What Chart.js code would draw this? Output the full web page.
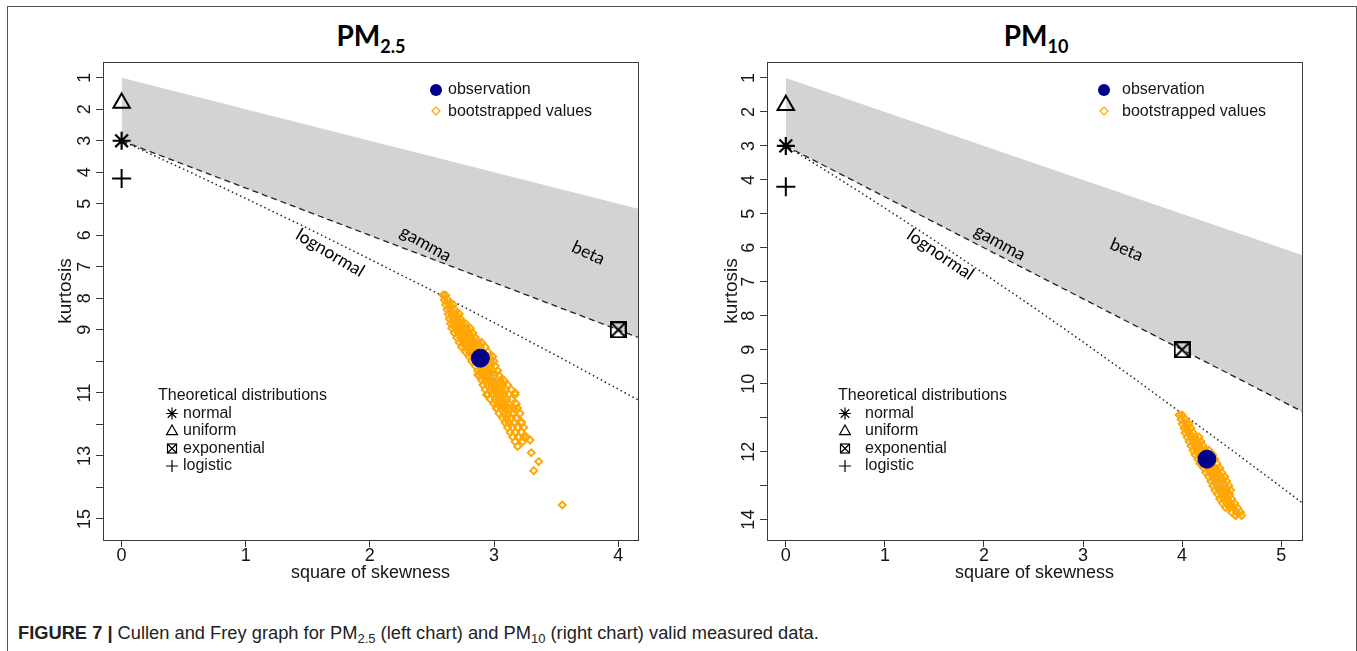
<!DOCTYPE html>
<html>
<head>
<meta charset="utf-8">
<script src="https://cdn.jsdelivr.net/npm/chart.js@4.4.1/dist/chart.umd.min.js"></script>
<style>
  body { margin: 0; background: #fff; width: 1357px; height: 651px; overflow: hidden; position: relative; font-family: "Liberation Sans", Arial, sans-serif; }
  .frame { position: absolute; left: 7px; top: 6px; width: 1348px; height: 700px; border: 1px solid #555; }
  .title { position: absolute; top: 18px; width: 300px; text-align: center; font: bold 28px Lato, "Liberation Sans", sans-serif; color: #000; }
  .title sub { font-size: 18px; vertical-align: baseline; position: relative; top: 7px; }
  canvas { position: absolute; }
  .caption { position: absolute; left: 18px; top: 622px; font: 18.3px "Liberation Sans", Arial, sans-serif; color: #222; white-space: nowrap; }
  .caption sub { font-size: 13px; vertical-align: baseline; position: relative; top: 4px; }
</style>
</head>
<body>
<div class="frame"></div>
<div class="title" style="left:221px">PM<sub>2.5</sub></div>
<div class="title" style="left:886px">PM<sub>10</sub></div>
<canvas id="chartPM25" width="640" height="560" style="left:20px;top:50px"></canvas>
<canvas id="chartPM10" width="640" height="560" style="left:686px;top:50px"></canvas>
<div class="caption"><b>FIGURE 7 |</b> Cullen and Frey graph for PM<sub>2.5</sub> (left chart) and PM<sub>10</sub> (right chart) valid measured data.</div>

<script>
// --- DATA ---
// theoretical distributions (same in both graphs)
const theoNames = ['normal', 'uniform', 'exponential', 'logistic'];
const theoX = [0, 0, 4, 0];
const theoY = [3, 1.8, 9, 4.2];

// lognormal curve
const lognormX = [0, 0.5, 1, 1.5, 2, 2.5, 3, 3.5, 4, 4.5, 5, 5.3];
const lognormY = [3, 3.9, 4.83, 5.78, 6.76, 7.75, 8.77, 9.81, 10.88, 11.95, 13.04, 13.7];

// PM2.5
const pm25XTicks = [0, 1, 2, 3, 4];
const pm25XLabels = ['0', '1', '2', '3', '4'];
const pm25YTicks = [1, 2, 3, 4, 5, 6, 7, 8, 9, 10, 11, 12, 13, 14, 15];
const pm25YLabels = ['1', '2', '3', '4', '5', '6', '7', '8', '9', '', '11', '', '13', '', '15'];
const pm25GammaX = [0, 4.2];
const pm25GammaY = [3, 9.3];
const pm25BetaX = [0, 4.2];
const pm25BetaY = [1, 5.2];
const pm25ObsX = [2.89];
const pm25ObsY = [9.9];
// bootstrapped (square of skewness, kurtosis)
const pm25Boot = [
  [2.59, 7.9], [2.61, 7.9],
  [2.60, 8.05], [2.63, 8.05],
  [2.61, 8.2], [2.64, 8.2], [2.67, 8.2],
  [2.62, 8.35], [2.65, 8.35], [2.68, 8.35],
  [2.63, 8.5], [2.66, 8.5], [2.69, 8.5], [2.72, 8.5],
  [2.64, 8.65], [2.67, 8.65], [2.70, 8.65], [2.73, 8.65],
  [2.65, 8.8], [2.68, 8.8], [2.71, 8.8], [2.74, 8.8], [2.77, 8.8],
  [2.66, 8.95], [2.69, 8.95], [2.72, 8.95], [2.75, 8.95], [2.78, 8.95], [2.81, 8.95],
  [2.68, 9.1], [2.71, 9.1], [2.74, 9.1], [2.77, 9.1], [2.80, 9.1], [2.83, 9.1],
  [2.70, 9.25], [2.73, 9.25], [2.76, 9.25], [2.79, 9.25], [2.82, 9.25], [2.85, 9.25],
  [2.72, 9.4], [2.75, 9.4], [2.78, 9.4], [2.81, 9.4], [2.84, 9.4], [2.87, 9.4], [2.90, 9.4],
  [2.74, 9.55], [2.77, 9.55], [2.80, 9.55], [2.83, 9.55], [2.86, 9.55], [2.89, 9.55], [2.93, 9.55],
  [2.77, 9.7], [2.80, 9.7], [2.83, 9.7], [2.86, 9.7], [2.95, 9.7],
  [2.80, 9.85], [2.83, 9.85], [2.96, 9.85], [2.99, 9.85],
  [2.82, 10.0], [2.85, 10.0], [2.97, 10.0], [3.00, 10.0],
  [2.85, 10.15], [2.88, 10.15], [2.91, 10.15], [2.94, 10.15], [2.97, 10.15], [3.01, 10.15],
  [2.87, 10.3], [2.90, 10.3], [2.93, 10.3], [2.96, 10.3], [2.99, 10.3], [3.03, 10.3],
  [2.88, 10.45], [2.91, 10.45], [2.94, 10.45], [2.97, 10.45], [3.00, 10.45], [3.04, 10.45],
  [2.90, 10.6], [2.93, 10.6], [2.96, 10.6], [2.99, 10.6], [3.02, 10.6], [3.05, 10.6], [3.08, 10.6],
  [2.91, 10.75], [2.95, 10.75], [2.98, 10.75], [3.01, 10.75], [3.04, 10.75], [3.07, 10.75], [3.11, 10.75],
  [2.93, 10.9], [2.97, 10.9], [3.00, 10.9], [3.03, 10.9], [3.06, 10.9], [3.09, 10.9], [3.14, 10.9],
  [2.95, 11.05], [2.99, 11.05], [3.02, 11.05], [3.05, 11.05], [3.08, 11.05], [3.12, 11.05], [3.17, 11.05],
  [2.97, 11.2], [3.01, 11.2], [3.04, 11.2], [3.07, 11.2], [3.10, 11.2], [3.14, 11.2],
  [3.00, 11.35], [3.03, 11.35], [3.06, 11.35], [3.09, 11.35], [3.12, 11.35], [3.18, 11.35],
  [3.02, 11.5], [3.06, 11.5], [3.09, 11.5], [3.12, 11.5], [3.16, 11.5],
  [3.04, 11.65], [3.08, 11.65], [3.11, 11.65], [3.15, 11.65], [3.21, 11.65],
  [3.07, 11.8], [3.10, 11.8], [3.14, 11.8], [3.18, 11.8],
  [3.09, 11.95], [3.12, 11.95], [3.16, 11.95], [3.22, 11.95],
  [3.11, 12.1], [3.15, 12.1], [3.19, 12.1], [3.24, 12.1],
  [3.13, 12.25], [3.17, 12.25], [3.22, 12.25],
  [3.15, 12.4], [3.20, 12.4], [3.26, 12.4],
  [3.17, 12.55], [3.23, 12.55], [3.29, 12.5],
  [3.19, 12.7], [3.30, 12.9], [3.36, 13.18], [3.32, 13.47], [3.55, 14.56],
  [2.87, 10.43], [2.94, 11.06], [3.02, 11.48], [3.17, 11.0], [3.19, 11.48], [3.22, 11.92], [3.24, 12.4]
];

// PM10
const pm10XTicks = [0, 1, 2, 3, 4, 5];
const pm10XLabels = ['0', '1', '2', '3', '4', '5'];
const pm10YTicks = [1, 2, 3, 4, 5, 6, 7, 8, 9, 10, 11, 12, 13, 14];
const pm10YLabels = ['1', '2', '3', '4', '5', '6', '7', '8', '9', '10', '', '12', '', '14'];
const pm10GammaX = [0, 5.3];
const pm10GammaY = [3, 10.95];
const pm10BetaX = [0, 5.3];
const pm10BetaY = [1, 6.3];
const pm10ObsX = [4.25];
const pm10ObsY = [12.22];
const pm10Boot = [
  [3.97, 10.92], [4.00, 10.92],
  [3.99, 11.05], [4.03, 11.05],
  [4.00, 11.18], [4.04, 11.18], [4.07, 11.18],
  [4.02, 11.31], [4.05, 11.31], [4.09, 11.31],
  [4.03, 11.44], [4.07, 11.44], [4.11, 11.44],
  [4.05, 11.57], [4.09, 11.57], [4.13, 11.57], [4.17, 11.57],
  [4.07, 11.7], [4.11, 11.7], [4.15, 11.7], [4.19, 11.7],
  [4.09, 11.83], [4.13, 11.83], [4.17, 11.83], [4.21, 11.83],
  [4.11, 11.96], [4.15, 11.96], [4.19, 11.96], [4.23, 11.96], [4.27, 11.96],
  [4.13, 12.09], [4.17, 12.09], [4.31, 12.09],
  [4.16, 12.22], [4.33, 12.22],
  [4.18, 12.35], [4.35, 12.35],
  [4.22, 12.48], [4.26, 12.48], [4.30, 12.48], [4.34, 12.48], [4.38, 12.48],
  [4.24, 12.61], [4.28, 12.61], [4.32, 12.61], [4.36, 12.61], [4.40, 12.61],
  [4.27, 12.74], [4.31, 12.74], [4.35, 12.74], [4.39, 12.74], [4.43, 12.74],
  [4.29, 12.87], [4.33, 12.87], [4.37, 12.87], [4.41, 12.87], [4.45, 12.87],
  [4.31, 13.0], [4.35, 13.0], [4.39, 13.0], [4.43, 13.0], [4.47, 13.0],
  [4.33, 13.13], [4.37, 13.13], [4.41, 13.13], [4.45, 13.13], [4.49, 13.13],
  [4.36, 13.26], [4.40, 13.26], [4.44, 13.26], [4.48, 13.26],
  [4.38, 13.39], [4.42, 13.39], [4.46, 13.39], [4.50, 13.39],
  [4.41, 13.52], [4.45, 13.52], [4.49, 13.52], [4.53, 13.52],
  [4.44, 13.65], [4.48, 13.65], [4.52, 13.65], [4.56, 13.65],
  [4.50, 13.78], [4.55, 13.78], [4.59, 13.78],
  [4.54, 13.88], [4.60, 13.88]
];

// --- HELPERS ---
const zip = (xs, ys) => xs.map((x, i) => ({ x: x, y: ys[i] }));
const pairs = pts => pts.map(p => ({ x: p[0], y: p[1] }));
const TXT = '#151515';

// square with a cross (R pch 7)
function boxX(size, lw) {
  const cv = document.createElement('canvas');
  cv.width = size; cv.height = size;
  const g = cv.getContext('2d');
  g.strokeStyle = '#000';
  g.lineWidth = lw;
  const m = lw / 2;
  g.strokeRect(m, m, size - lw, size - lw);
  g.beginPath();
  g.moveTo(m, m); g.lineTo(size - m, size - m);
  g.moveTo(size - m, m); g.lineTo(m, size - m);
  g.stroke();
  return cv;
}
const expMarker = boxX(17, 2);

function drawSym(c, type, x, y, r) {
  c.save();
  c.strokeStyle = '#000';
  c.lineWidth = 1.2;
  c.beginPath();
  if (type === 'normal') {
    for (let k = 0; k < 4; k++) {
      const a = k * Math.PI / 4;
      c.moveTo(x - Math.cos(a) * r, y - Math.sin(a) * r);
      c.lineTo(x + Math.cos(a) * r, y + Math.sin(a) * r);
    }
    c.stroke();
  } else if (type === 'uniform') {
    c.moveTo(x, y - r); c.lineTo(x + r * 0.9, y + r * 0.6); c.lineTo(x - r * 0.9, y + r * 0.6); c.closePath();
    c.stroke();
  } else if (type === 'exponential') {
    c.strokeRect(x - r * 0.75, y - r * 0.75, r * 1.5, r * 1.5);
    c.moveTo(x - r * 0.75, y - r * 0.75); c.lineTo(x + r * 0.75, y + r * 0.75);
    c.moveTo(x + r * 0.75, y - r * 0.75); c.lineTo(x - r * 0.75, y + r * 0.75);
    c.stroke();
  } else {
    c.moveTo(x - r, y); c.lineTo(x + r, y); c.moveTo(x, y - r); c.lineTo(x, y + r);
    c.stroke();
  }
  c.restore();
}

// R base-graphics look: box, rotated labels, legends
function rPlot(cfg) {
  return {
    id: 'rPlot',
    afterDraw(chart) {
      const c = chart.ctx, a = chart.chartArea, xs = chart.scales.x, ys = chart.scales.y;
      c.save();
      c.strokeStyle = '#3a3a3a';
      c.lineWidth = 1;
      c.strokeRect(a.left + 0.5, a.top + 0.5, a.right - a.left, a.bottom - a.top);

      c.fillStyle = TXT;
      c.font = '18px "Liberation Sans", Arial, sans-serif';
      c.textAlign = 'center';
      c.textBaseline = 'top';
      cfg.xTicks.forEach((v, i) => c.fillText(cfg.xLabels[i], xs.getPixelForValue(v), a.bottom + 7));
      c.fillText('square of skewness', (a.left + a.right) / 2, a.bottom + 24);

      cfg.yTicks.forEach((v, i) => {
        if (!cfg.yLabels[i]) return;
        c.save();
        c.translate(a.left - 18, ys.getPixelForValue(v));
        c.rotate(-Math.PI / 2);
        c.textBaseline = 'middle';
        c.fillText(cfg.yLabels[i], 0, 0);
        c.restore();
      });
      c.save();
      c.font = '19px "Liberation Sans", Arial, sans-serif';
      c.translate(a.left - cfg.kurtOff, (a.top + a.bottom) / 2 - 10);
      c.rotate(-Math.PI / 2);
      c.textBaseline = 'middle';
      c.fillText('kurtosis', 0, 0);
      c.restore();

      // labels along the lines
      c.font = '17.5px Lato, "Open Sans", sans-serif';
      c.fillStyle = '#000';
      cfg.lineLabels.forEach(l => {
        c.save();
        c.translate(xs.getPixelForValue(l.x), ys.getPixelForValue(l.y));
        c.rotate(l.angle * Math.PI / 180);
        c.textBaseline = 'middle';
        c.fillText(l.text, 0, 0);
        c.restore();
      });

      // top legend
      c.font = '16px "Liberation Sans", Arial, sans-serif';
      c.textAlign = 'left';
      c.textBaseline = 'middle';
      const lx = a.left + cfg.legX, ly = a.top + 28;
      c.beginPath();
      c.arc(lx, ly, 6, 0, Math.PI * 2);
      c.fillStyle = '#00008B';
      c.fill();
      c.strokeStyle = '#FFA500';
      c.lineWidth = 1.2;
      c.beginPath();
      c.moveTo(lx, ly + 17); c.lineTo(lx + 4, ly + 21); c.lineTo(lx, ly + 25); c.lineTo(lx - 4, ly + 21); c.closePath();
      c.stroke();
      c.fillStyle = TXT;
      c.fillText('observation', lx + cfg.legGap, ly);
      c.fillText('bootstrapped values', lx + cfg.legGap, ly + 22);

      // theoretical distributions legend
      const tx = a.left + cfg.theoX, ty = a.top + 334;
      c.fillText('Theoretical distributions', tx, ty);
      theoNames.forEach((n, i) => {
        const yy = ty + 17.5 * (i + 1);
        drawSym(c, n, tx + cfg.theoSym, yy, 6);
        c.fillStyle = TXT;
        c.fillText(n, tx + cfg.theoTxt, yy);
      });
      c.restore();
    }
  };
}

function makeChart(id, cfg) {
  new Chart(document.getElementById(id), {
    type: 'scatter',
    data: {
      datasets: [
        { label: 'observation', data: zip(cfg.obsX, cfg.obsY), pointStyle: 'circle', pointRadius: 9,
          backgroundColor: '#00008B', borderColor: '#00008B', borderWidth: 1 },
        { label: 'bootstrapped values', data: pairs(cfg.boot), pointStyle: 'rectRot', pointRadius: 3.5,
          backgroundColor: 'rgba(0,0,0,0)', borderColor: '#FFA500', borderWidth: 1.9 },
        { label: 'normal', data: [{ x: theoX[0], y: theoY[0] }], pointStyle: 'star', pointRadius: 9,
          borderColor: '#000', borderWidth: 2.2 },
        { label: 'uniform', data: [{ x: theoX[1], y: theoY[1] }], pointStyle: 'triangle', pointRadius: 9.5,
          backgroundColor: 'rgba(0,0,0,0)', borderColor: '#000', borderWidth: 2 },
        { label: 'exponential', data: [{ x: theoX[2], y: theoY[2] }], pointStyle: expMarker, pointRadius: 9 },
        { label: 'logistic', data: [{ x: theoX[3], y: theoY[3] }], pointStyle: 'cross', pointRadius: 9.5,
          borderColor: '#000', borderWidth: 2 },
        { label: 'lognormal', data: zip(lognormX, lognormY), showLine: true, pointRadius: 0,
          borderColor: '#222', borderWidth: 1.5, borderDash: [1.5, 3], fill: false },
        { label: 'gamma', data: zip(cfg.gammaX, cfg.gammaY), showLine: true, pointRadius: 0,
          borderColor: '#222', borderWidth: 1.3, borderDash: [6, 4], fill: '+1', backgroundColor: '#D3D3D3' },
        { label: 'beta', data: zip(cfg.betaX, cfg.betaY), showLine: true, pointRadius: 0,
          borderWidth: 0, borderColor: 'rgba(0,0,0,0)', fill: false }
      ]
    },
    options: {
      responsive: false,
      animation: false,
      layout: { padding: { left: 0, right: cfg.padRight, top: 12, bottom: 0 } },
      plugins: { legend: { display: false }, tooltip: { enabled: false } },
      scales: {
        x: {
          type: 'linear', min: cfg.xMin, max: cfg.xMax,
          afterBuildTicks: s => { s.ticks = cfg.xTicks.map(v => ({ value: v })); },
          afterFit: s => { s.height = 70; },
          ticks: { display: false },
          grid: { drawOnChartArea: false, drawTicks: true, tickLength: 7, color: '#3a3a3a' },
          border: { display: false }
        },
        y: {
          type: 'linear', reverse: true, min: cfg.yMin, max: cfg.yMax,
          afterBuildTicks: s => { s.ticks = cfg.yTicks.map(v => ({ value: v })); },
          afterFit: s => { s.width = cfg.yWidth; },
          ticks: { display: false },
          grid: { drawOnChartArea: false, drawTicks: true, tickLength: 7, color: '#3a3a3a' },
          border: { display: false }
        }
      }
    },
    plugins: [rPlot(cfg)]
  });
}

makeChart('chartPM25', {
  xMin: -0.15, xMax: 4.16, yMin: 0.5, yMax: 15.67, yWidth: 83, padRight: 22, kurtOff: 37,
  xTicks: pm25XTicks, xLabels: pm25XLabels, yTicks: pm25YTicks, yLabels: pm25YLabels,
  gammaX: pm25GammaX, gammaY: pm25GammaY, betaX: pm25BetaX, betaY: pm25BetaY,
  obsX: pm25ObsX, obsY: pm25ObsY, boot: pm25Boot,
  legX: 333, legGap: 12, theoX: 55, theoSym: 14, theoTxt: 25,
  lineLabels: [
    { text: 'lognormal', x: 1.68, y: 6.56, angle: 31 },
    { text: 'gamma', x: 2.45, y: 6.27, angle: 29 },
    { text: 'beta', x: 3.76, y: 6.56, angle: 25 }
  ]
});

makeChart('chartPM10', {
  xMin: -0.19, xMax: 5.21, yMin: 0.53, yMax: 14.6, yWidth: 81, padRight: 24, kurtOff: 35,
  xTicks: pm10XTicks, xLabels: pm10XLabels, yTicks: pm10YTicks, yLabels: pm10YLabels,
  gammaX: pm10GammaX, gammaY: pm10GammaY, betaX: pm10BetaX, betaY: pm10BetaY,
  obsX: pm10ObsX, obsY: pm10ObsY, boot: pm10Boot,
  legX: 337, legGap: 18, theoX: 71, theoSym: 7, theoTxt: 27,
  lineLabels: [
    { text: 'lognormal', x: 1.56, y: 6.2, angle: 34 },
    { text: 'gamma', x: 2.16, y: 5.85, angle: 29 },
    { text: 'beta', x: 3.44, y: 6.06, angle: 23 }
  ]
});
</script>
</body>
</html>
